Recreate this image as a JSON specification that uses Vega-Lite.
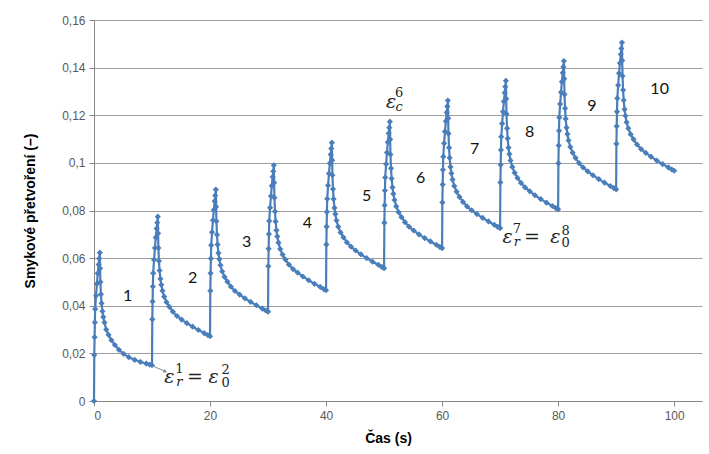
{
"$schema": "https://vega.github.io/schema/vega-lite/v6.json",
"width": 608, "height": 381,
"autosize": {"type": "none"},
"padding": {"left": 94, "top": 20, "right": 7, "bottom": 53},
"background": "white",
"config": {"view": {"stroke": null}, "font": "Liberation Sans"},
"datasets": {
"curve": [
{"t":0,"v":0},
{"t":0.05,"v":0.0193},{"t":0.1,"v":0.0268},{"t":0.15,"v":0.0330},{"t":0.2,"v":0.0386},{"t":0.35,"v":0.0442},{"t":0.5,"v":0.0492},{"t":0.65,"v":0.0536},{"t":0.8,"v":0.0573},{"t":0.9,"v":0.0598},{"t":1,"v":0.0623},
{"t":1.05,"v":0.0557},{"t":1.1,"v":0.0500},{"t":1.2,"v":0.0448},{"t":1.3,"v":0.0410},{"t":1.45,"v":0.0377},{"t":1.6,"v":0.0353},{"t":1.8,"v":0.0330},{"t":2.1,"v":0.0300},{"t":2.5,"v":0.0278},{"t":3,"v":0.0255},{"t":3.6,"v":0.0235},{"t":4.3,"v":0.0215},{"t":5.1,"v":0.0198},{"t":6,"v":0.0184},{"t":7,"v":0.0173},{"t":8,"v":0.0164},{"t":9,"v":0.0157},{"t":9.6,"v":0.0153},{"t":10,"v":0.0150},
{"t":10.05,"v":0.0343},{"t":10.1,"v":0.0418},{"t":10.15,"v":0.0481},{"t":10.2,"v":0.0537},{"t":10.35,"v":0.0593},{"t":10.5,"v":0.0643},{"t":10.65,"v":0.0687},{"t":10.8,"v":0.0724},{"t":10.9,"v":0.0749},{"t":11,"v":0.0774},
{"t":11.05,"v":0.0704},{"t":11.1,"v":0.0643},{"t":11.2,"v":0.0588},{"t":11.3,"v":0.0548},{"t":11.45,"v":0.0513},{"t":11.6,"v":0.0488},{"t":11.8,"v":0.0463},{"t":12.1,"v":0.0438},{"t":12.5,"v":0.0415},{"t":13,"v":0.0395},{"t":13.6,"v":0.0375},{"t":14.3,"v":0.0357},{"t":15.1,"v":0.0342},{"t":16,"v":0.0327},{"t":17,"v":0.0312},{"t":18,"v":0.0298},{"t":19,"v":0.0285},{"t":19.6,"v":0.0277},{"t":20,"v":0.0272},
{"t":20.05,"v":0.0463},{"t":20.1,"v":0.0537},{"t":20.15,"v":0.0598},{"t":20.2,"v":0.0654},{"t":20.35,"v":0.0709},{"t":20.5,"v":0.0759},{"t":20.65,"v":0.0802},{"t":20.8,"v":0.0839},{"t":20.9,"v":0.0863},{"t":21,"v":0.0888},
{"t":21.05,"v":0.0816},{"t":21.1,"v":0.0755},{"t":21.2,"v":0.0698},{"t":21.3,"v":0.0657},{"t":21.45,"v":0.0621},{"t":21.6,"v":0.0596},{"t":21.8,"v":0.0570},{"t":22.1,"v":0.0544},{"t":22.5,"v":0.0521},{"t":23,"v":0.0501},{"t":23.6,"v":0.0480},{"t":24.3,"v":0.0462},{"t":25.1,"v":0.0447},{"t":26,"v":0.0431},{"t":27,"v":0.0416},{"t":28,"v":0.0402},{"t":29,"v":0.0388},{"t":29.6,"v":0.0380},{"t":30,"v":0.0375},
{"t":30.05,"v":0.0566},{"t":30.1,"v":0.0639},{"t":30.15,"v":0.0701},{"t":30.2,"v":0.0756},{"t":30.35,"v":0.0812},{"t":30.5,"v":0.0861},{"t":30.65,"v":0.0904},{"t":30.8,"v":0.0941},{"t":30.9,"v":0.0965},{"t":31,"v":0.0990},
{"t":31.05,"v":0.0917},{"t":31.1,"v":0.0854},{"t":31.2,"v":0.0796},{"t":31.3,"v":0.0754},{"t":31.45,"v":0.0717},{"t":31.6,"v":0.0691},{"t":31.8,"v":0.0665},{"t":32.1,"v":0.0638},{"t":32.5,"v":0.0615},{"t":33,"v":0.0594},{"t":33.6,"v":0.0573},{"t":34.3,"v":0.0554},{"t":35.1,"v":0.0539},{"t":36,"v":0.0523},{"t":37,"v":0.0507},{"t":38,"v":0.0492},{"t":39,"v":0.0479},{"t":39.6,"v":0.0470},{"t":40,"v":0.0465},
{"t":40.05,"v":0.0657},{"t":40.1,"v":0.0732},{"t":40.15,"v":0.0794},{"t":40.2,"v":0.0849},{"t":40.35,"v":0.0905},{"t":40.5,"v":0.0955},{"t":40.65,"v":0.0998},{"t":40.8,"v":0.1035},{"t":40.9,"v":0.1060},{"t":41,"v":0.1085},
{"t":41.05,"v":0.1011},{"t":41.1,"v":0.0948},{"t":41.2,"v":0.0890},{"t":41.3,"v":0.0848},{"t":41.45,"v":0.0811},{"t":41.6,"v":0.0785},{"t":41.8,"v":0.0758},{"t":42.1,"v":0.0732},{"t":42.5,"v":0.0708},{"t":43,"v":0.0687},{"t":43.6,"v":0.0666},{"t":44.3,"v":0.0648},{"t":45.1,"v":0.0632},{"t":46,"v":0.0616},{"t":47,"v":0.0600},{"t":48,"v":0.0585},{"t":49,"v":0.0572},{"t":49.6,"v":0.0563},{"t":50,"v":0.0558},
{"t":50.05,"v":0.0749},{"t":50.1,"v":0.0822},{"t":50.15,"v":0.0884},{"t":50.2,"v":0.0939},{"t":50.35,"v":0.0995},{"t":50.5,"v":0.1044},{"t":50.65,"v":0.1087},{"t":50.8,"v":0.1124},{"t":50.9,"v":0.1148},{"t":51,"v":0.1173},
{"t":51.05,"v":0.1099},{"t":51.1,"v":0.1035},{"t":51.2,"v":0.0977},{"t":51.3,"v":0.0934},{"t":51.45,"v":0.0897},{"t":51.6,"v":0.0870},{"t":51.8,"v":0.0844},{"t":52.1,"v":0.0817},{"t":52.5,"v":0.0793},{"t":53,"v":0.0772},{"t":53.6,"v":0.0751},{"t":54.3,"v":0.0732},{"t":55.1,"v":0.0716},{"t":56,"v":0.0700},{"t":57,"v":0.0684},{"t":58,"v":0.0670},{"t":59,"v":0.0656},{"t":59.6,"v":0.0647},{"t":60,"v":0.0642},
{"t":60.05,"v":0.0834},{"t":60.1,"v":0.0909},{"t":60.15,"v":0.0971},{"t":60.2,"v":0.1026},{"t":60.35,"v":0.1082},{"t":60.5,"v":0.1132},{"t":60.65,"v":0.1175},{"t":60.8,"v":0.1212},{"t":60.9,"v":0.1237},{"t":61,"v":0.1262},
{"t":61.05,"v":0.1187},{"t":61.1,"v":0.1123},{"t":61.2,"v":0.1064},{"t":61.3,"v":0.1021},{"t":61.45,"v":0.0983},{"t":61.6,"v":0.0956},{"t":61.8,"v":0.0930},{"t":62.1,"v":0.0903},{"t":62.5,"v":0.0879},{"t":63,"v":0.0857},{"t":63.6,"v":0.0836},{"t":64.3,"v":0.0817},{"t":65.1,"v":0.0801},{"t":66,"v":0.0785},{"t":67,"v":0.0769},{"t":68,"v":0.0754},{"t":69,"v":0.0740},{"t":69.6,"v":0.0731},{"t":70,"v":0.0726},
{"t":70.05,"v":0.0918},{"t":70.1,"v":0.0992},{"t":70.15,"v":0.1054},{"t":70.2,"v":0.1110},{"t":70.35,"v":0.1165},{"t":70.5,"v":0.1215},{"t":70.65,"v":0.1258},{"t":70.8,"v":0.1295},{"t":70.9,"v":0.1320},{"t":71,"v":0.1345},
{"t":71.05,"v":0.1269},{"t":71.1,"v":0.1205},{"t":71.2,"v":0.1145},{"t":71.3,"v":0.1102},{"t":71.45,"v":0.1064},{"t":71.6,"v":0.1037},{"t":71.8,"v":0.1010},{"t":72.1,"v":0.0983},{"t":72.5,"v":0.0959},{"t":73,"v":0.0937},{"t":73.6,"v":0.0916},{"t":74.3,"v":0.0897},{"t":75.1,"v":0.0881},{"t":76,"v":0.0864},{"t":77,"v":0.0848},{"t":78,"v":0.0833},{"t":79,"v":0.0819},{"t":79.6,"v":0.0810},{"t":80,"v":0.0805},
{"t":80.05,"v":0.0998},{"t":80.1,"v":0.1073},{"t":80.15,"v":0.1135},{"t":80.2,"v":0.1191},{"t":80.35,"v":0.1247},{"t":80.5,"v":0.1297},{"t":80.65,"v":0.1341},{"t":80.8,"v":0.1378},{"t":80.9,"v":0.1403},{"t":81,"v":0.1428},
{"t":81.05,"v":0.1353},{"t":81.1,"v":0.1288},{"t":81.2,"v":0.1229},{"t":81.3,"v":0.1185},{"t":81.45,"v":0.1148},{"t":81.6,"v":0.1121},{"t":81.8,"v":0.1094},{"t":82.1,"v":0.1067},{"t":82.5,"v":0.1043},{"t":83,"v":0.1021},{"t":83.6,"v":0.0999},{"t":84.3,"v":0.0981},{"t":85.1,"v":0.0964},{"t":86,"v":0.0948},{"t":87,"v":0.0932},{"t":88,"v":0.0917},{"t":89,"v":0.0903},{"t":89.6,"v":0.0894},{"t":90,"v":0.0889},
{"t":90.05,"v":0.1080},{"t":90.1,"v":0.1154},{"t":90.15,"v":0.1215},{"t":90.2,"v":0.1271},{"t":90.35,"v":0.1326},{"t":90.5,"v":0.1376},{"t":90.65,"v":0.1419},{"t":90.8,"v":0.1456},{"t":90.9,"v":0.1480},{"t":91,"v":0.1505},
{"t":91.05,"v":0.1430},{"t":91.1,"v":0.1365},{"t":91.2,"v":0.1306},{"t":91.3,"v":0.1263},{"t":91.45,"v":0.1225},{"t":91.6,"v":0.1198},{"t":91.8,"v":0.1171},{"t":92.1,"v":0.1145},{"t":92.5,"v":0.1120},{"t":93,"v":0.1099},{"t":93.6,"v":0.1077},{"t":94.3,"v":0.1058},{"t":95.1,"v":0.1042},{"t":96,"v":0.1026},{"t":97,"v":0.1010},{"t":98,"v":0.0995},{"t":99,"v":0.0981},{"t":99.6,"v":0.0972},{"t":100,"v":0.0967}
],
"cycles": [
{"t":5.8,"v":0.0441,"s":"1"},{"t":17.0,"v":0.0517,"s":"2"},{"t":26.3,"v":0.0668,"s":"3"},{"t":36.8,"v":0.0748,"s":"4"},{"t":47.0,"v":0.0861,"s":"5"},
{"t":56.3,"v":0.0936,"s":"6"},{"t":65.6,"v":0.1058,"s":"7"},{"t":75.1,"v":0.1130,"s":"8"},{"t":85.8,"v":0.1239,"s":"9"},{"t":97.5,"v":0.1310,"s":"10"}
],
"base": [
{"t":13.0,"v":0.0074,"s":"ε"},{"t":17.4,"v":0.0074,"s":"="},{"t":20.6,"v":0.0074,"s":"ε"},
{"t":51.2,"v":0.1229,"s":"ε"},
{"t":71.3,"v":0.0662,"s":"ε"},{"t":75.5,"v":0.0662,"s":"="},{"t":79.5,"v":0.0662,"s":"ε"}
],
"digits": [
{"t":14.7,"v":0.0116,"s":"1"},{"t":22.7,"v":0.0112,"s":"2"},{"t":22.7,"v":0.0060,"s":"0"},
{"t":52.6,"v":0.1278,"s":"6"},
{"t":72.9,"v":0.0704,"s":"7"},{"t":81.3,"v":0.0697,"s":"8"},{"t":81.3,"v":0.0646,"s":"0"}
],
"letters": [
{"t":14.7,"v":0.0064,"s":"r"},{"t":52.6,"v":0.1219,"s":"c"},{"t":72.9,"v":0.0651,"s":"r"}
],
"arrow": [{"t":10.1,"v":0.0147,"t2":12.3,"v2":0.0124}]
},
"layer": [
{
"data": {"name": "curve"},
"mark": {"type": "line", "color": "#4A7EBB", "strokeWidth": 2.2},
"encoding": {
"x": {"field": "t", "type": "quantitative", "scale": {"domain": [0, 104.8], "nice": false},
"axis": {"values": [0, 20, 40, 60, 80, 100], "grid": false, "domainColor": "#868686", "tickColor": "#868686", "tickSize": 5,
"labelColor": "#595959", "labelFontSize": 12, "labelPadding": 4, "title": "Čas (s)", "titleFontSize": 14, "titleFontWeight": "bold",
"titleColor": "#000000", "titlePadding": 10, "titleX": 294}},
"y": {"field": "v", "type": "quantitative", "scale": {"domain": [0, 0.16], "nice": false},
"axis": {"values": [0, 0.02, 0.04, 0.06, 0.08, 0.1, 0.12, 0.14, 0.16], "grid": true, "gridColor": "#9E9E9E", "domainColor": "#868686",
"tickColor": "#868686", "tickSize": 5, "labelColor": "#595959", "labelFontSize": 12, "labelPadding": 4,
"labelExpr": "replace(format(datum.value, '.2~f'), '.', ',')",
"title": "Smykové přetvoření (–)", "titleFontSize": 14, "titleFontWeight": "bold", "titleColor": "#000000", "titlePadding": 24}}
}
},
{
"data": {"name": "curve"},
"mark": {"type": "point", "shape": "diamond", "filled": true, "size": 38, "color": "#4A7EBB", "opacity": 1},
"encoding": {"x": {"field": "t", "type": "quantitative"}, "y": {"field": "v", "type": "quantitative"}}
},
{
"data": {"name": "arrow"},
"mark": {"type": "rule", "color": "#8C8C8C", "strokeWidth": 1},
"encoding": {"x": {"field": "t", "type": "quantitative"}, "y": {"field": "v", "type": "quantitative"}, "x2": {"field": "t2"}, "y2": {"field": "v2"}}
},
{
"data": {"name": "arrow"},
"mark": {"type": "point", "shape": "triangle-right", "filled": true, "size": 18, "color": "#8C8C8C", "opacity": 1, "angle": 23},
"encoding": {"x": {"field": "t2", "type": "quantitative"}, "y": {"field": "v2", "type": "quantitative"}}
},
{
"data": {"name": "cycles"},
"mark": {"type": "text", "font": "Lato", "fontSize": 16, "color": "#111111", "align": "center", "baseline": "middle"},
"encoding": {"x": {"field": "t", "type": "quantitative"}, "y": {"field": "v", "type": "quantitative"}, "text": {"field": "s"}}
},
{
"data": {"name": "base"},
"mark": {"type": "text", "font": "DejaVu Serif", "fontStyle": "italic", "fontSize": 19, "color": "#222222", "align": "center", "baseline": "alphabetic"},
"encoding": {"x": {"field": "t", "type": "quantitative"}, "y": {"field": "v", "type": "quantitative"}, "text": {"field": "s"}}
},
{
"data": {"name": "digits"},
"mark": {"type": "text", "font": "DejaVu Serif", "fontSize": 13, "color": "#222222", "align": "center", "baseline": "alphabetic"},
"encoding": {"x": {"field": "t", "type": "quantitative"}, "y": {"field": "v", "type": "quantitative"}, "text": {"field": "s"}}
},
{
"data": {"name": "letters"},
"mark": {"type": "text", "font": "DejaVu Serif", "fontStyle": "italic", "fontSize": 13, "color": "#222222", "align": "center", "baseline": "alphabetic"},
"encoding": {"x": {"field": "t", "type": "quantitative"}, "y": {"field": "v", "type": "quantitative"}, "text": {"field": "s"}}
}
]
}
